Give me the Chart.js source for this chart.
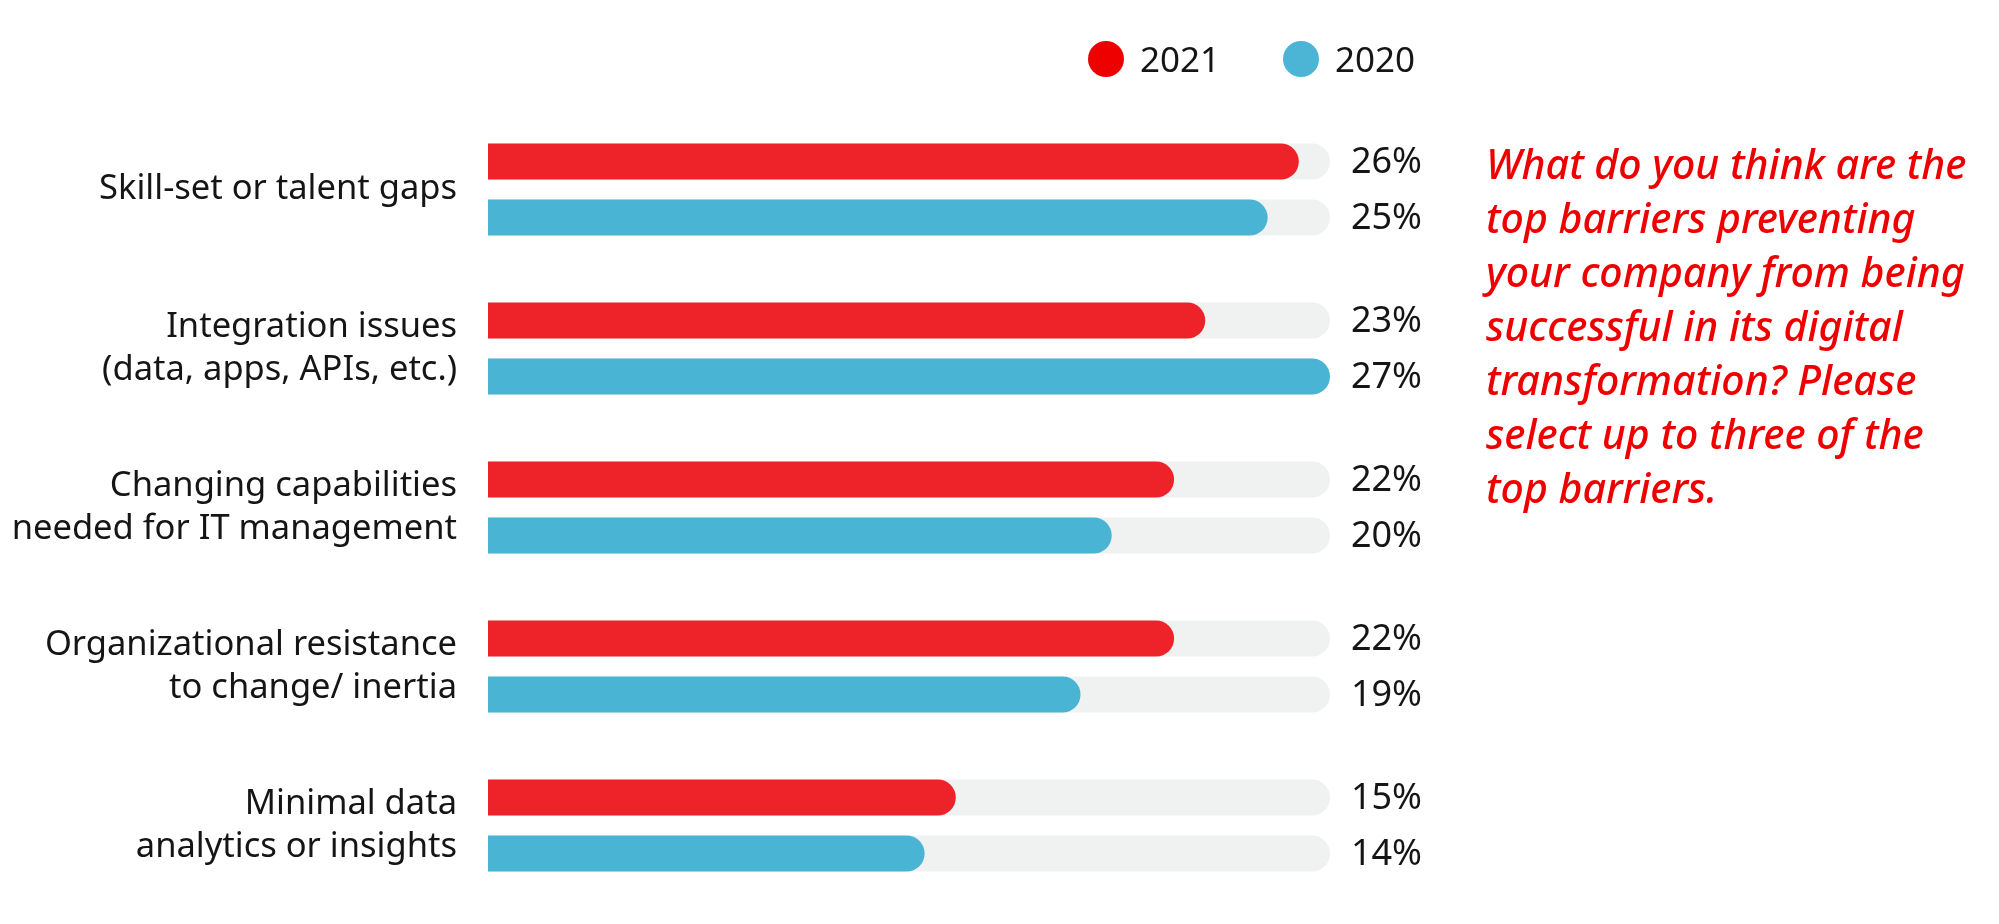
<!DOCTYPE html>
<html>
<head>
<meta charset="utf-8">
<script src="https://cdn.jsdelivr.net/npm/chart.js@4.4.1/dist/chart.umd.min.js"></script>
<style>
  html, body { margin: 0; padding: 0; background: #fff; }
  .wrap { position: relative; width: 1999px; height: 924px; overflow: hidden; }
  #chart { position: absolute; left: 0; top: 0; }
  .legend { position: absolute; top: 36px; left: 1088px; font-family: "Noto Sans", sans-serif; font-size: 35px; color: #151515; }
  .legend span { position: absolute; white-space: nowrap; line-height: 46px; }
  .legend i { position: absolute; width: 36px; height: 36px; border-radius: 50%; top: 5px; }
  .question { position: absolute; left: 1486px; top: 136px; width: 512px; color: #ee0000;
    font-family: "Noto Sans", sans-serif; font-style: italic; font-weight: 500; font-size: 41px; line-height: 54px; }
</style>
</head>
<body>
<div class="wrap">
  <canvas id="chart" width="1999" height="924"></canvas>
  <div class="legend">
    <i style="left:0; background:#ee0000"></i><span style="left:52px">2021</span>
    <i style="left:195px; background:#4cb5d6"></i><span style="left:247px">2020</span>
  </div>
  <div class="question">What do you think are the<br>top barriers preventing<br>your company from being<br>successful in its digital<br>transformation? Please<br>select up to three of the<br>top barriers.</div>
</div>
<script>
const categories = [
  "Skill-set or talent gaps",
  ["Integration issues", "(data, apps, APIs, etc.)"],
  ["Changing capabilities", "needed for IT management"],
  ["Organizational resistance", "to change/ inertia"],
  ["Minimal data", "analytics or insights"]
];
const values2021 = [26, 23, 22, 22, 15];
const values2020 = [25, 27, 20, 19, 14];
const track = [27, 27, 27, 27, 27];

const red = "#ee2229";
const blue = "#4ab4d5";
const gray = "#f0f1f1";

const valueLabels = {
  id: 'valueLabels',
  afterDatasetsDraw(chart) {
    const ctx = chart.ctx;
    ctx.save();
    ctx.font = "36px 'Noto Sans', sans-serif";
    ctx.fillStyle = "#151515";
    ctx.textAlign = "right";
    ctx.textBaseline = "middle";
    [0, 1].forEach((di) => {
      const meta = chart.getDatasetMeta(di);
      meta.data.forEach((bar, i) => {
        ctx.fillText(chart.data.datasets[di].data[i] + "%", 1422, bar.y + 1);
      });
    });
    ctx.restore();
  }
};

new Chart(document.getElementById("chart"), {
  type: 'bar',
  data: {
    labels: categories,
    datasets: [
      { label: '2021', data: values2021, backgroundColor: red, stack: 's2021', order: 0, borderRadius: 18 },
      { label: '2020', data: values2020, backgroundColor: blue, stack: 's2020', order: 0, borderRadius: 18 },
      { label: 'track2021', data: track, backgroundColor: gray, stack: 's2021', order: 1, borderRadius: 18 },
      { label: 'track2020', data: track, backgroundColor: gray, stack: 's2020', order: 1, borderRadius: 18 }
    ]
  },
  options: {
    indexAxis: 'y',
    responsive: false,
    animation: false,
    devicePixelRatio: 1,
    categoryPercentage: 0.705,
    barPercentage: 0.643,
    layout: { padding: { top: 110, bottom: 19, left: 0, right: 669 } },
    plugins: {
      legend: { display: false },
      tooltip: { enabled: false }
    },
    scales: {
      x: {
        display: false,
        stacked: false,
        min: 0,
        max: 27
      },
      y: {
        grid: { display: false, drawTicks: false },
        border: { display: false },
        afterFit(scale) {
          scale.width = 488;
          scale.paddingTop = 0;
          scale.paddingBottom = 0;
        },
        ticks: {
          padding: 31,
          color: "#151515",
          font: { family: "'Noto Sans', sans-serif", size: 34.5, lineHeight: 1.25 }
        }
      }
    }
  },
  plugins: [valueLabels]
});
</script>
</body>
</html>
